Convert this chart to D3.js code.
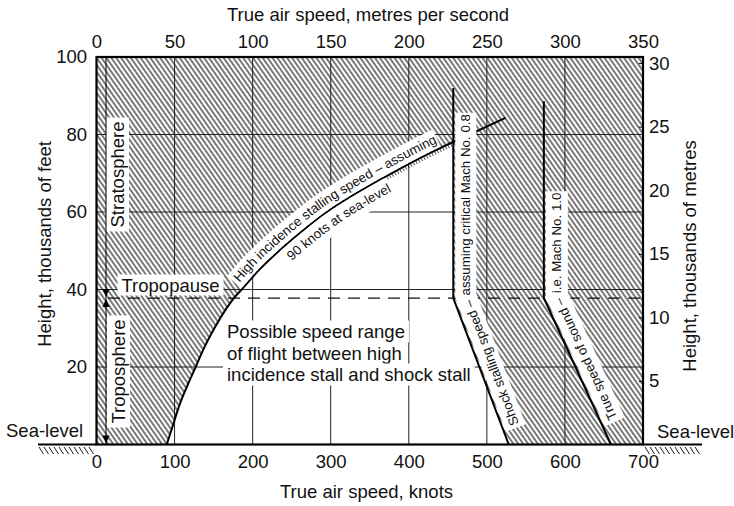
<!DOCTYPE html>
<html><head><meta charset="utf-8">
<script src="https://cdn.jsdelivr.net/npm/d3@7"></script>
<style>
html,body{margin:0;padding:0;background:#fff;}
svg{display:block;font-family:"Liberation Sans",Arial,Helvetica,sans-serif;}
</style></head><body>
<svg id="chart" width="734" height="506"></svg>
<script>
// Flight envelope: high-incidence stall and shock stall against height
const knotTicks = [0,100,200,300,400,500,600,700];
const msTicks = [0,50,100,150,200,250,300,350];
const feetTicks = [20,40,60,80,100];
const metreTicks = [5,10,15,20,25,30];
const gridKnots = [100,200,300,400,500,600];
const gridFeet = [20,40,60,80];

// High incidence stalling speed (knots) by height (thousands of feet)
const stallHeights = [0,5,10,15,20,25,30,35,37.8,40,45,50,55,60,65,70,75,78,80,84.3];
const stallKnots   = [90,98,106,116,127,138,151,166,176,186,208,234,263,295,334,378,425,456,478,524];
// Shock stalling speed, critical Mach 0.8
const shockHeights = [0,37.8,92];
const shockKnots   = [528,457,457];
// True speed of sound, Mach 1.0
const soundHeights = [0,37.8,88.6];
const soundKnots   = [659,573,573];
const tropopause = 37.8;
const ftPerMetre = 3.28084;

const FONT = 18.5, SMALL = 13.3, INK = '#111';
const plot = {l:96.5, r:643, t:57, b:444.5};

const svg = d3.select('#chart');
const x = d3.scaleLinear().domain([0,700]).range([plot.l, plot.r]);
const xMs = d3.scaleLinear().domain([0,350]).range([plot.l, plot.r]);
const y = d3.scaleLinear().domain([0,100]).range([plot.b, plot.t]);
const yKm = d3.scaleLinear().domain([0,100/ftPerMetre]).range([plot.b, plot.t]);

const defs = svg.append('defs');
const pat = defs.append('pattern').attr('id','hatch').attr('patternUnits','userSpaceOnUse')
  .attr('width',4).attr('height',10).attr('patternTransform','rotate(-35)');
pat.append('line').attr('x1',2).attr('x2',2).attr('y1',0).attr('y2',10)
  .attr('stroke','#000').attr('stroke-width',1.05);

const zip = (ks,hs) => ks.map((k,i)=>[x(k), y(hs[i])]);
const stallPts = zip(stallKnots, stallHeights);
const shockPts = zip(shockKnots, shockHeights);
const soundPts = zip(soundKnots, soundHeights);
const stallD = d3.line().curve(d3.curveMonotoneX)(stallPts);

// clip: everything left of the shock stall line
const clipPts = [...shockPts, [shockPts[shockPts.length-1][0], y(100)], [x(0), y(100)], [x(0), y(0)]];
defs.append('clipPath').attr('id','leftOfShock').append('path').attr('d', d3.line()(clipPts)+'Z');

// hatched background over the whole plot
svg.append('rect').attr('x',plot.l).attr('y',plot.t).attr('width',plot.r-plot.l).attr('height',plot.b-plot.t)
  .attr('fill','url(#hatch)');

// clear speed range between the two stalls
const lastStall = stallPts[stallPts.length-1];
svg.append('path').attr('d', stallD + `L${x(700)},${lastStall[1]}L${x(700)},${y(0)}Z`)
  .attr('fill','#fff').attr('clip-path','url(#leftOfShock)');

// grid
const grid = svg.append('g').attr('stroke','#222').attr('stroke-width',1);
grid.selectAll('line.v').data(gridKnots).join('line').attr('class','v')
  .attr('x1',d=>x(d)).attr('x2',d=>x(d)).attr('y1',plot.t).attr('y2',plot.b);
grid.selectAll('line.h').data(gridFeet).join('line').attr('class','h')
  .attr('x1',plot.l).attr('x2',plot.r).attr('y1',d=>y(d)).attr('y2',d=>y(d));

// tropopause
svg.append('line').attr('x1',108).attr('x2',plot.r).attr('y1',y(tropopause)).attr('y2',y(tropopause))
  .attr('stroke','#111').attr('stroke-width',1.2).attr('stroke-dasharray','12 8');

// boundary lines
const lines = svg.append('g').attr('fill','none').attr('stroke','#000').attr('stroke-width',2).attr('stroke-linejoin','miter');
lines.append('path').attr('d', stallD);
lines.append('path').attr('d', d3.line()(shockPts));
lines.append('path').attr('d', d3.line()(soundPts));

// sample the stall curve for offsets
const probe = svg.append('path').attr('d', stallD).attr('fill','none');
const total = probe.node().getTotalLength();
const samples = d3.range(0,total,1.5).concat([total]).map(l=>{const p=probe.node().getPointAtLength(l);return [p.x,p.y];});
probe.remove();
const curveBetween = (h0,h1) => samples.filter(p => p[1] <= y(h0) && p[1] >= y(h1));

function normalAt(a,b){const dx=b[0]-a[0],dy=b[1]-a[1],l=Math.hypot(dx,dy)||1;return [-dy/l,dx/l];}
function offsetPts(pts,d){
  return pts.map((p,i)=>{
    let n1 = i>0 ? normalAt(pts[i-1],p) : null;
    let n2 = i<pts.length-1 ? normalAt(p,pts[i+1]) : null;
    if(!n1) n1=n2; if(!n2) n2=n1;
    let mx=n1[0]+n2[0], my=n1[1]+n2[1]; const ml=Math.hypot(mx,my)||1; mx/=ml; my/=ml;
    const c = Math.max(0.3, mx*n1[0]+my*n1[1]);
    return [p[0]+mx*d/c, p[1]+my*d/c];
  });
}

// short ticks on the lower side of the stall curve
const tickPts = curveBetween(60,78);
const tk = svg.append('g').attr('stroke','#111').attr('stroke-width',0.8);
tickPts.forEach((p,i)=>{
  if(i%2 || i===tickPts.length-1) return;
  const n = normalAt(p, tickPts[i+1]);
  tk.append('line').attr('x1',p[0]+n[0]*1).attr('y1',p[1]+n[1]*1).attr('x2',p[0]+n[0]*4).attr('y2',p[1]+n[1]*4);
});

// border
svg.append('rect').attr('x',plot.l).attr('y',plot.t).attr('width',plot.r-plot.l).attr('height',plot.b-plot.t)
  .attr('fill','none').attr('stroke','#000').attr('stroke-width',2.2);

// sea level ground
const ground = svg.append('g').attr('stroke','#000');
ground.append('line').attr('x1',38).attr('x2',plot.l).attr('y1',plot.b).attr('y2',plot.b).attr('stroke-width',2.2);
ground.append('line').attr('x1',plot.r).attr('x2',702).attr('y1',plot.b).attr('y2',plot.b).attr('stroke-width',2.2);
[[39,94],[645,699]].forEach(([a,b])=>{
  d3.range(a,b,5).forEach(g=>{
    ground.append('line').attr('x1',g).attr('y1',447).attr('x2',g+4.5).attr('y2',454).attr('stroke-width',0.9);
  });
});

const bandLayer = svg.append('g');
const textLayer = svg.append('g').attr('fill',INK);

// atmosphere dimension line with arrows (dir +1 points down, -1 points up)
const ax0 = 106;
svg.append('line').attr('x1',ax0).attr('x2',ax0).attr('y1',plot.t).attr('y2',plot.b).attr('stroke','#000').attr('stroke-width',1);
const yt = y(tropopause);
const arrows = [[yt-1,1],[yt+1,-1],[plot.b-1,1]];
svg.append('g').selectAll('path').data(arrows).join('path')
  .attr('d',([yy,dir])=>`M${ax0},${yy}L${ax0-3.5},${yy-dir*8}L${ax0+3.5},${yy-dir*8}Z`)
  .attr('fill','#000');

// labels along lines
let labelId = 0;
function pathLabel(pts, baseOff, bandOff, bandW, txt, start){
  const id = 'lp'+(labelId++);
  defs.append('path').attr('id',id).attr('d', d3.line()(offsetPts(pts,baseOff)));
  const band = bandLayer.append('path').attr('d', d3.line()(offsetPts(pts,bandOff)))
    .attr('fill','none').attr('stroke','#fff').attr('stroke-width',bandW).attr('stroke-linejoin','miter');
  const t = textLayer.append('text').attr('font-size',SMALL);
  t.append('textPath').attr('href','#'+id).attr('startOffset',start).text(txt);
  const len = t.node().getComputedTextLength();
  band.attr('stroke-dasharray',`${len+6} 5000`).attr('stroke-dashoffset',-(start-3));
}
pathLabel(curveBetween(40,84.3), -6, -10.5, 19, 'High incidence stalling speed – assuming', 3);
pathLabel(curveBetween(50,84.3), 16, 12, 22, '90 knots at sea-level', 2);
pathLabel(shockPts, 17, 12.5, 21, 'Shock stalling speed – assuming critical Mach No. 0.8', 16);
pathLabel(soundPts, 17, 13, 22, 'True speed of sound – i.e. Mach No. 1.0', 22);

// plain labels with cleared background
function boxedText(g, txt, attrs, pad){
  const t = g.append('text').attr('font-size',FONT).text(txt);
  Object.entries(attrs).forEach(([k,v])=>t.attr(k,v));
  const b = t.node().getBBox();
  g.insert('rect','text').attr('x',b.x-pad[0]).attr('y',b.y-pad[1]).attr('width',b.width+2*pad[0]).attr('height',b.height+2*pad[1])
    .attr('fill','#fff');
  return t;
}
{
  const g = bandLayer.append('g');
  boxedText(g,'Tropopause',{x:121.5,y:291.5},[4,0]);
  const gs = bandLayer.append('g').attr('transform','translate(124,174.5) rotate(-90)');
  boxedText(gs,'Stratosphere',{x:0,y:0,'text-anchor':'middle'},[4,1]);
  const gt = bandLayer.append('g').attr('transform','translate(125,371.5) rotate(-90)');
  boxedText(gt,'Troposphere',{x:0,y:0,'text-anchor':'middle'},[4,1]);
  const lines3 = ['Possible speed range','of flight between high','incidence stall and shock stall'];
  lines3.forEach((s,i)=>{
    const gl = bandLayer.append('g');
    boxedText(gl,s,{x:227,y:338+i*21.5},[4,0.5]);
  });
}
bandLayer.selectAll('text').attr('fill',INK);

// axes
function styleAxis(g){
  g.select('.domain').remove();
  g.attr('font-family',null).attr('font-size',FONT);
  g.selectAll('text').attr('fill',INK);
}
svg.append('g').attr('transform',`translate(0,${plot.t})`)
  .call(d3.axisTop(xMs).tickValues(msTicks).tickSize(0).tickPadding(9)).call(styleAxis);
svg.append('g').attr('transform',`translate(0,${plot.b})`)
  .call(d3.axisBottom(x).tickValues(knotTicks).tickSize(0).tickPadding(10.4)).call(styleAxis);
svg.append('g').attr('transform',`translate(${plot.l},0)`)
  .call(d3.axisLeft(y).tickValues(feetTicks).tickSize(0).tickPadding(9.5)).call(styleAxis);
const ra = svg.append('g').attr('transform',`translate(${plot.r},0)`)
  .call(d3.axisRight(yKm).tickValues(metreTicks).tickSize(-4).tickPadding(6)).call(styleAxis);
ra.selectAll('line').attr('stroke','#000').attr('stroke-width',1);

// titles
const titles = svg.append('g').attr('fill',INK).attr('font-size',FONT);
titles.append('text').attr('x',368).attr('y',21).attr('text-anchor','middle').text('True air speed, metres per second');
titles.append('text').attr('x',366.5).attr('y',498).attr('text-anchor','middle').text('True air speed, knots');
titles.append('text').attr('transform','translate(51,244) rotate(-90)').attr('text-anchor','middle').text('Height, thousands of feet');
titles.append('text').attr('transform','translate(696,256) rotate(-90)').attr('text-anchor','middle').text('Height, thousands of metres');
titles.append('text').attr('x',6).attr('y',437).text('Sea-level');
titles.append('text').attr('x',657).attr('y',438).text('Sea-level');
</script>
</body></html>
